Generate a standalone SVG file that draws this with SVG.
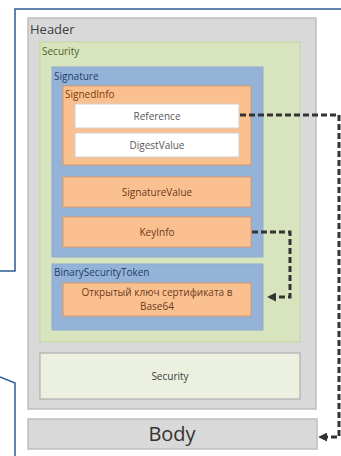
<svg xmlns="http://www.w3.org/2000/svg" width="341" height="456" viewBox="0 0 341 456">
<defs>
<style>
text{font-family:"Open Sans","Liberation Sans",sans-serif}
.lbl{font-size:10px}
.c{text-anchor:middle}
.gray{fill:#d9d9d9;stroke:#bfbfbf;stroke-width:1.5}
.green{fill:#d7e4bd;stroke:#c3d69b;stroke-width:1}
.lgreen{fill:#ebf1de;stroke:#a6a6a6;stroke-width:1}
.blue{fill:#95b3d7;stroke:#8eaad0;stroke-width:1}
.orange{fill:#fac090;stroke:#d99868;stroke-width:1}
.white{fill:#ffffff;stroke:#d0d0d0;stroke-width:1}
.dash{fill:none;stroke:#333333;stroke-width:3;stroke-dasharray:6 3}
.frame{fill:none;stroke:#2e5c94;stroke-width:1.5}
</style>
<marker id="arr" viewBox="0 0 10 10" refX="9" refY="5" markerWidth="3" markerHeight="3" orient="auto">
<path d="M0,0 L10,5 L0,10 z" fill="#333333"/>
</marker>
</defs>
<g id="frame">
<polyline class="frame" points="341,9 15,9 15,271 0,271"/>
<polyline class="frame" points="0,377 15,383 15,456"/>
</g>
<g id="header">
<rect class="gray" x="28" y="18" width="288" height="391"/>
<text x="30" y="34" font-size="13" fill="#404040">Header</text>
</g>
<g id="security">
<rect class="green" x="40" y="42" width="260" height="300"/>
<text x="42" y="55" class="lbl" fill="#4f6228">Security</text>
</g>
<g id="signature">
<rect class="blue" x="52" y="67" width="211" height="190"/>
<text x="54" y="80" class="lbl" fill="#1f3d6d">Signature</text>
</g>
<g id="signedinfo">
<rect class="orange" x="63" y="86" width="188" height="79"/>
<text x="65" y="98" class="lbl" fill="#7a3b06">SignedInfo</text>
</g>
<g id="reference">
<rect class="white" x="75" y="104" width="164" height="24"/>
<text x="157" y="119.5" class="lbl c" fill="#595959">Reference</text>
</g>
<g id="digestvalue">
<rect class="white" x="75" y="133" width="164" height="24"/>
<text x="157" y="148.5" class="lbl c" fill="#595959">DigestValue</text>
</g>
<g id="signaturevalue">
<rect class="orange" x="63" y="177" width="188" height="30"/>
<text x="157" y="195.5" class="lbl c" fill="#6b3a1a">SignatureValue</text>
</g>
<g id="keyinfo">
<rect class="orange" x="63" y="217" width="188" height="30"/>
<text x="157" y="235.5" class="lbl c" fill="#6b3a1a">KeyInfo</text>
</g>
<g id="binarysecuritytoken">
<rect class="blue" x="52" y="264" width="211" height="66"/>
<text x="54" y="276" class="lbl" fill="#1f3d6d">BinarySecurityToken</text>
</g>
<g id="publickey">
<rect class="orange" x="63" y="283" width="188" height="33"/>
<text x="157" y="296" class="lbl c" fill="#6b3a1a">Открытый ключ сертификата в</text>
<text x="157" y="310" class="lbl c" fill="#6b3a1a">Base64</text>
</g>
<g id="security2">
<rect class="lgreen" x="40" y="353" width="260" height="46"/>
<text x="170" y="379.5" class="lbl c" fill="#404040">Security</text>
</g>
<g id="body">
<rect class="gray" x="28" y="419" width="289" height="30"/>
<text x="172" y="441" class="c" font-size="20" fill="#333333">Body</text>
</g>
<g id="connectors">
<polyline class="dash" points="240,115 339,115 339,437 319,437" marker-end="url(#arr)"/>
<polyline class="dash" points="252,232 290,232 290,297 268,297" marker-end="url(#arr)"/>
</g>
</svg>
